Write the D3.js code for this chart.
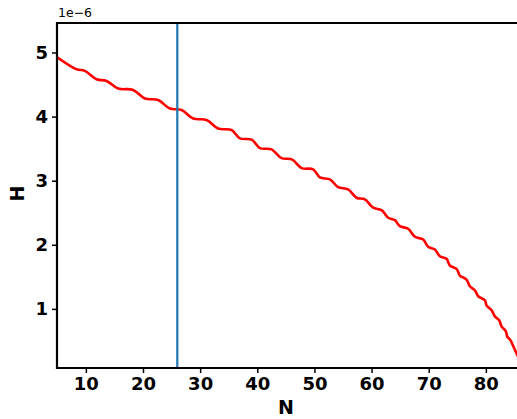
<!DOCTYPE html>
<html>
<head>
<meta charset="utf-8">
<script src="https://cdn.jsdelivr.net/npm/d3@7"></script>
<style>
  body { margin: 0; background: #fff; }
  svg { display: block; }
  svg text { font-family: "DejaVu Sans", sans-serif; }
  .axis path { display: none; }
  .axis line { stroke: #000; stroke-width: 1.5; }
  .axis text { font-family: "DejaVu Sans", sans-serif; font-size: 18px; font-weight: bold; fill: #000; }
</style>
</head>
<body>
<div id="chart"></div>
<script>
// H (units of 1e-6) against N
var nValues = [5.05, 8.37, 9.83, 11.87, 13.62, 15.65, 18.28, 20.33, 22.65, 24.70, 26.75,
  28.78, 31.12, 33.15, 35.50, 36.95, 39.00, 40.45, 42.50, 44.25, 46.05, 47.75, 49.78,
  50.95, 52.70, 54.15, 55.90, 57.37, 58.83, 60.28, 61.75, 62.90, 64.08, 64.95, 66.40,
  67.58, 69.03, 69.90, 71.08, 71.95, 73.12, 73.70, 74.87, 75.45, 76.62, 77.20, 78.08,
  78.66, 79.83, 80.13, 81.00, 81.58, 82.33, 82.75, 83.50, 83.73, 84.33, 84.68, 85.08, 85.70];
var hValues = [4.922, 4.739, 4.713, 4.583, 4.556, 4.438, 4.416, 4.281, 4.259, 4.125, 4.103,
  3.969, 3.947, 3.813, 3.791, 3.661, 3.641, 3.509, 3.489, 3.353, 3.333, 3.197, 3.177,
  3.052, 3.020, 2.900, 2.864, 2.734, 2.708, 2.578, 2.541, 2.422, 2.384, 2.291, 2.250,
  2.125, 2.083, 1.969, 1.927, 1.822, 1.781, 1.677, 1.625, 1.520, 1.458, 1.353, 1.291,
  1.197, 1.134, 1.052, 0.978, 0.884, 0.822, 0.728, 0.650, 0.572, 0.509, 0.442, 0.364, 0.240];
var markerN = 26;
var xTicks = [10, 20, 30, 40, 50, 60, 70, 80];
var yTicks = [1, 2, 3, 4, 5];

var data = nValues.map(function(n, i) { return {x: n, y: hValues[i]}; });

var margin = {top: 23, right: 0, bottom: 51, left: 57},
    width = 517 - margin.left - margin.right,
    height = 419 - margin.top - margin.bottom;

var x = d3.scaleLinear()
    .range([0, width])
    .domain([4.95, 85.45]);

var y = d3.scaleLinear()
    .range([height, 0])
    .domain([0.078, 5.46]);

var line = d3.line()
    .x(function(d) { return x(d.x); })
    .y(function(d) { return y(d.y); })
    .curve(d3.curveCatmullRom.alpha(0.5));

var svg = d3.select("#chart").append("svg")
    .attr("width", 517)
    .attr("height", 419);

svg.append("defs").append("clipPath")
    .attr("id", "clip")
  .append("rect")
    .attr("width", width)
    .attr("height", height);

var g = svg.append("g")
    .attr("transform", "translate(" + margin.left + "," + margin.top + ")");

g.append("path")
  .datum(data)
  .attr("clip-path", "url(#clip)")
  .attr("fill", "none")
  .attr("stroke", "red")
  .attr("stroke-width", 2.6)
  .attr("d", line);

g.append("line")
  .attr("x1", x(markerN))
  .attr("x2", x(markerN))
  .attr("y1", 0)
  .attr("y2", height)
  .attr("stroke", "#1f77b4")
  .attr("stroke-width", 2.2);

g.append("g")
  .attr("class", "axis axis--x")
  .attr("transform", "translate(0," + height + ")")
  .call(d3.axisBottom(x).tickValues(xTicks).tickFormat(d3.format("d")).tickSize(5).tickPadding(4));

g.append("g")
  .attr("class", "axis axis--y")
  .call(d3.axisLeft(y).tickValues(yTicks).tickFormat(d3.format("d")).tickSize(5).tickPadding(4));

// spines (left, top, bottom)
g.append("path")
  .attr("d", "M" + width + ",0H0V" + height + "H" + width)
  .attr("fill", "none")
  .attr("stroke", "#000")
  .attr("stroke-width", 2.2);

g.append("text")
  .attr("x", 1)
  .attr("y", -6)
  .attr("font-size", 12.5)
  .text("1e\u22126");

svg.append("text")
  .attr("x", margin.left + x(45))
  .attr("y", 414)
  .attr("text-anchor", "middle")
  .attr("font-size", 19)
  .attr("font-weight", "bold")
  .text("N");

svg.append("text")
  .attr("transform", "translate(24," + (margin.top + y(2.8)) + ") rotate(-90)")
  .attr("text-anchor", "middle")
  .attr("font-size", 19)
  .attr("font-weight", "bold")
  .text("H");
</script>
</body>
</html>
